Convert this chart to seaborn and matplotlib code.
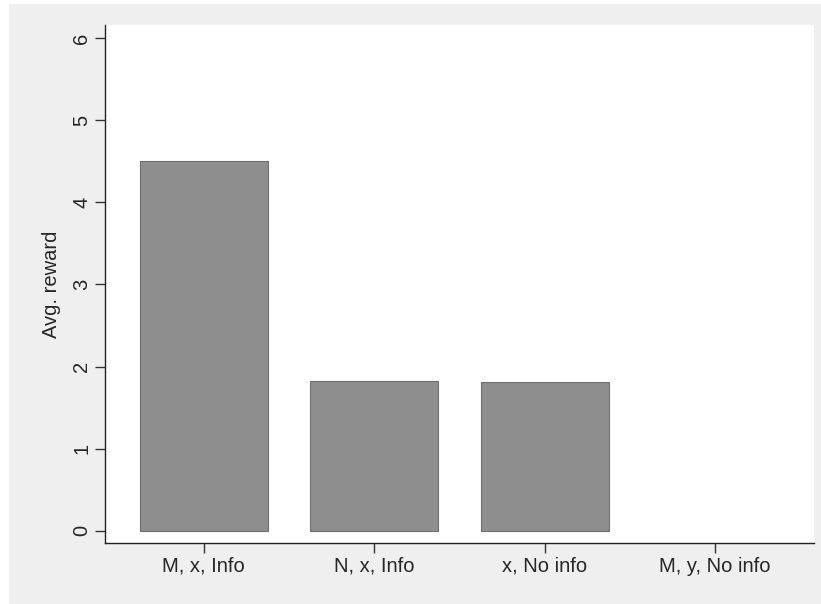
import pandas as pd
import matplotlib
matplotlib.use("Agg")
import matplotlib.pyplot as plt
import matplotlib.patches as mpatches
import seaborn as sns

# values
groups = ["M, x, Info", "N, x, Info", "x, No info", "M, y, No info"]
avg_reward = [4.50, 1.82, 1.81, 0.0]
y_ticks = [0, 1, 2, 3, 4, 5, 6]

df = pd.DataFrame({"group": groups, "reward": avg_reward})

sns.set_style("white")
plt.rcParams['font.family'] = ['Liberation Sans', 'DejaVu Sans']

fig = plt.figure(figsize=(8.21, 6.04), dpi=100)
fig.patch.set_facecolor("white")
# stata-like grey outer region
fig.patches.append(mpatches.Rectangle((9 / 821, 0), 1, 1 - 4 / 604,
                                      transform=fig.transFigure,
                                      facecolor="#efefef", edgecolor="none",
                                      zorder=-10))

ax = fig.add_axes([105 / 821, 1 - 543 / 604, (813.7 - 105) / 821, (543 - 25) / 604])
ax.set_facecolor("white")

sns.barplot(data=df, x="group", y="reward", ax=ax, color="#8e8e8e",
            width=0.75, saturation=1, edgecolor="#6e6e6e", linewidth=0.8,
            errorbar=None)

# empty group: no outline drawn
for p in ax.patches:
    if p.get_height() == 0:
        p.set_linewidth(0)

ax.set_xlim(-0.578, 3.578)
ax.set_ylim(-0.15, 6.16)
ax.set_yticks(y_ticks)
ax.set_yticklabels([str(t) for t in y_ticks], rotation=90, va="center")
ax.set_xlabel("")
ax.set_ylabel("Avg. reward", fontsize=14.5, labelpad=8)

for side in ["top", "right"]:
    ax.spines[side].set_visible(False)
for side in ["left", "bottom"]:
    ax.spines[side].set_color("#222222")
    ax.spines[side].set_linewidth(1.0)

ax.tick_params(axis="both", which="major", direction="out", length=7,
               width=1.0, color="#333333", labelsize=14.5, pad=3,
               left=True, bottom=True)

fig.savefig("out.png", dpi=100, facecolor=fig.get_facecolor())
